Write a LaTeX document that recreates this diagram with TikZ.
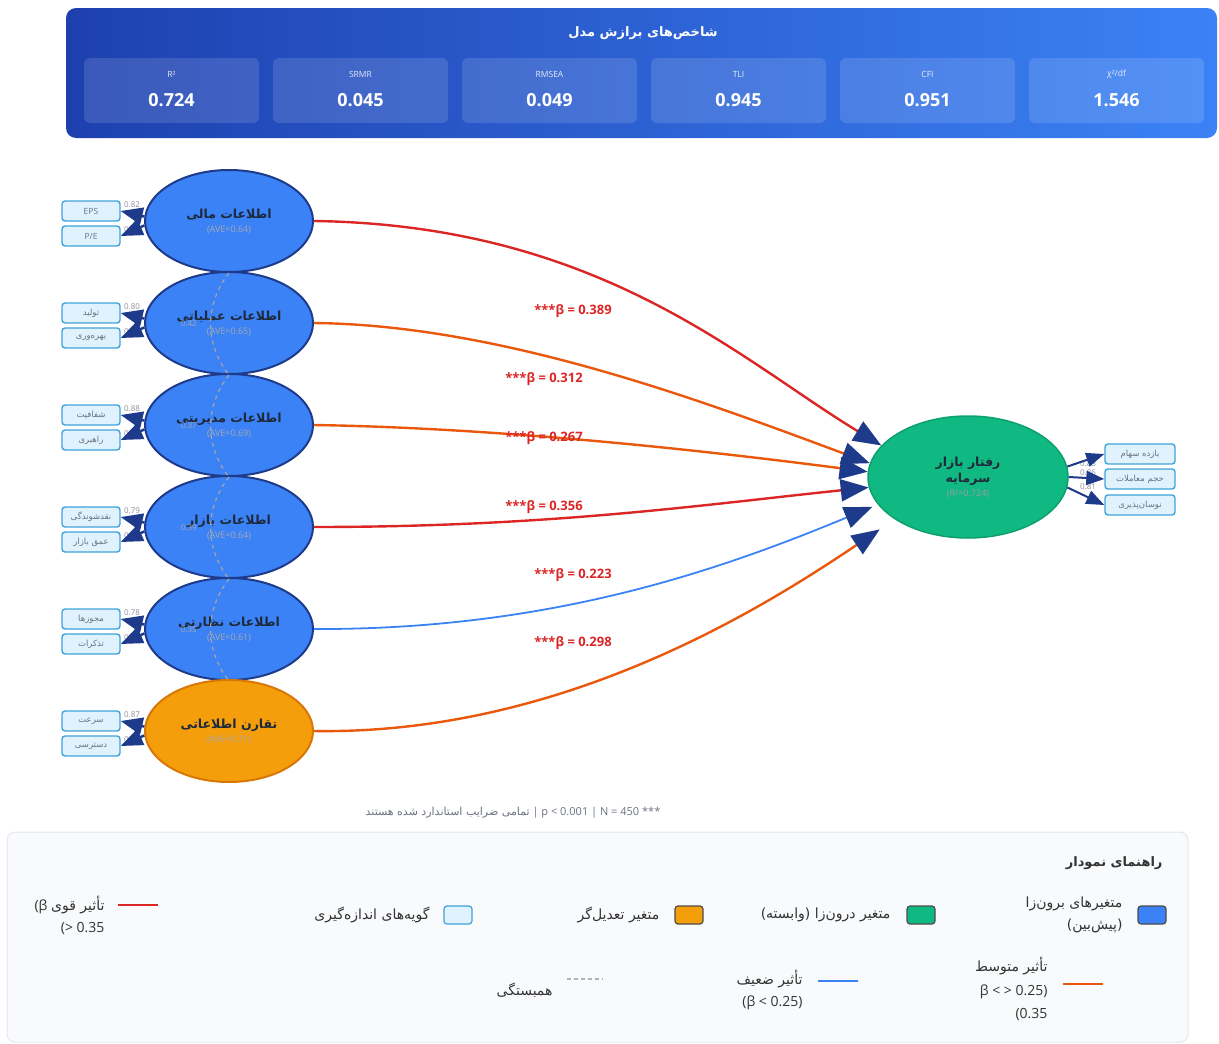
\documentclass[tikz,border=0pt]{standalone}
\usepackage{fontspec}
\setmainfont{Open Sans}
\newfontfamily\fafont[Script=Arabic]{DejaVu Sans}
\TeXXeTstate=1
\usepackage{tikz}
\usetikzlibrary{arrows.meta, shapes.geometric, positioning}
\newcommand{\fa}[1]{{\fafont\beginR #1\endR}}
\definecolor{latblue}{HTML}{3B82F6}
\definecolor{navy}{HTML}{1E3A8A}
\definecolor{symfill}{HTML}{F59E0B}
\definecolor{symline}{HTML}{D97706}
\definecolor{behfill}{HTML}{10B981}
\definecolor{behline}{HTML}{0E9F6E}
\definecolor{itemfill}{HTML}{E0F2FE}
\definecolor{itemline}{HTML}{3FA3DC}
\definecolor{strongred}{HTML}{DC2626}
\definecolor{midorange}{HTML}{EA580C}
\definecolor{weakblue}{HTML}{3B82F6}
\definecolor{ink}{HTML}{1E293B}
\definecolor{softgray}{HTML}{6B7280}
\definecolor{hdrleft}{HTML}{1E40AF}
\definecolor{hdrright}{HTML}{3B82F6}
\definecolor{legbg}{HTML}{F8FAFC}
\definecolor{legline}{HTML}{E2E8F0}
\tikzstyle{latent} = [ellipse, draw=navy, line width=2pt, fill=latblue, minimum width=168, minimum height=102, inner sep=0pt, align=center, text=ink]
\tikzstyle{ind}    = [rectangle, rounded corners=3pt, draw=itemline, line width=1.4pt, fill=itemfill, minimum width=58, minimum height=20, inner sep=0pt, font=\fontsize{8.5}{10}\selectfont, text=softgray]
\tikzstyle{load}   = [line width=2.5pt, draw=navy, -{Triangle[length=22pt,width=17pt]}]
\tikzstyle{effect} = [line width=2.4pt, -{Triangle[length=28pt,width=22pt,color=navy]}]
\tikzstyle{swatch} = [rectangle, rounded corners=3pt, minimum width=28, minimum height=18, inner sep=0pt, line width=1.2pt, draw=black!70]

\begin{document}
\begin{tikzpicture}[x=1pt, y=-1pt,
    lval/.style={font=\fontsize{8}{9}\selectfont, text=softgray!80},
    beta/.style={font=\fontsize{13}{15}\selectfont\bfseries, text=strongred},
    corr/.style={draw=gray!70, line width=1.2pt, dash pattern=on 4pt off 4pt},
    fitbox/.style={rounded corners=6pt, fill=white, fill opacity=0.13, minimum width=175, minimum height=65, inner sep=0pt},
    legtxt/.style={anchor=east, align=right, font=\fontsize{14}{22}\selectfont, text=black!80},
  ]
  \useasboundingbox (0,0) rectangle (1219,1044);

  % model fit header
  \node[rounded corners=10pt, left color=hdrleft, right color=hdrright, minimum width=1151, minimum height=130, inner sep=0pt] (hdr) at (641.5,73) {};
  \node[text=white, font=\fontsize{13}{15}\selectfont\bfseries] (hdrtitle) at (643,33) {\fa{شاخص‌های برازش مدل}};
  \foreach \i/\lab/\val in {0/R²/0.724, 1/SRMR/0.045, 2/RMSEA/0.049, 3/TLI/0.945, 4/CFI/0.951, 5/{χ²/df}/1.546}{
    \node[fitbox] (box\i) at (171.5+189*\i, 90.5) {};
    \node[text=white, text opacity=0.85, font=\fontsize{8.5}{10}\selectfont] (lab\i) at (171.5+189*\i, 74) {\lab};
    \node[text=white, font=\fontsize{18}{20}\selectfont\bfseries] (val\i) at (171.5+189*\i, 100) {\val};
  }

  % endogenous variable
  \node[latent, fill=behfill, draw=behline, line width=1.5pt, minimum width=200, minimum height=122,
        font=\fontsize{12.5}{16}\selectfont\bfseries] (beh) at (968,477)
    {\fa{رفتار بازار}\\\fa{سرمایه}\\[-2pt]
     \fontsize{9}{11}\selectfont\mdseries\color{ink!45}(R²=0.724)};
  \node[ind, minimum width=70] (ret) at (1140,454) {\fa{بازده سهام}};
  \node[ind, minimum width=70] (vol) at (1140,479) {\fa{حجم معاملات}};
  \node[ind, minimum width=70] (fluc) at (1140,505) {\fa{نوسان‌پذیری}};
  \node[lval] (ret-l) at (1088,464) {0.83};
  \node[lval] (vol-l) at (1088,473) {0.86};
  \node[lval] (fluc-l) at (1088,487) {0.81};
  \draw[load, line width=2pt, -{Triangle[length=18pt,width=14pt]}] (beh.6) -- (ret.west);
  \draw[load, line width=2pt, -{Triangle[length=18pt,width=14pt]}] (beh.0) -- (vol.west);
  \draw[load, line width=2pt, -{Triangle[length=18pt,width=14pt]}] (beh.-6) -- (fluc.west);

  % exogenous variables and their items
  \foreach \n/\y/\name/\ave/\ia/\ib/\la/\lb/\fc/\dc in {
      fin/221/{اطلاعات مالی}/0.64/{EPS}/{P/E}/0.82/0.79/latblue/navy,
      opr/323/{اطلاعات عملیاتی}/0.65/{\fa{تولید}}/{\fa{بهره‌وری}}/0.80/0.83/latblue/navy,
      mgt/425/{اطلاعات مدیریتی}/0.69/{\fa{شفافیت}}/{\fa{راهبری}}/0.88/0.82/latblue/navy,
      mkt/527/{اطلاعات بازار}/0.64/{\fa{نقدشوندگی}}/{\fa{عمق بازار}}/0.79/0.85/latblue/navy,
      reg/629/{اطلاعات نظارتی}/0.61/{\fa{مجوزها}}/{\fa{تذکرات}}/0.78/0.81/latblue/navy,
      sym/731/{تقارن اطلاعاتی}/0.71/{\fa{سرعت}}/{\fa{دسترسی}}/0.87/0.84/symfill/symline}{
    \node[latent, fill=\fc, draw=\dc] (\n) at (229,\y)
      {\fontsize{12.5}{15}\selectfont\bfseries\fa{\name}\\[2pt]
       \fontsize{9}{11}\selectfont\mdseries\color{ink!40}(AVE=\ave)};
    \node[ind] (\n-a) at (91,\y-10) {\ia};
    \node[ind] (\n-b) at (91,\y+15) {\ib};
    \node[lval] (\n-la) at (132,\y-16) {\la};
    \node[lval] (\n-lb) at (132,\y+9) {\lb};
    \draw[load] (\n.177) -- (\n-a.east);
    \draw[load] (\n.183) -- (\n-b.east);
  }

  % correlations
  \foreach \a/\b/\r in {fin/opr/0.42, opr/mgt/0.37, mgt/mkt/0.39, mkt/reg/0.35}
    \draw[corr] (\a.south) to[bend right=38] node[lval, text=ink!40, left=10pt] (\a-\b) {\r} (\b.south);

  % structural paths
  \draw[effect, strongred] (fin.east) .. controls (600,225) and (740,360) .. (beh.160);
  \draw[effect, midorange] (opr.east) .. controls (500,325) and (700,400) .. (beh.172);
  \draw[effect, midorange] (mgt.east) .. controls (500,428) and (700,450) .. (beh.177);
  \draw[effect, strongred] (mkt.east) .. controls (550,527) and (700,505) .. (beh.186);
  \draw[effect, weakblue, line width=1.8pt, shorten >=6pt] (reg.east) .. controls (550,630) and (720,570) .. (beh.197);
  \draw[effect, midorange, shorten >=18pt] (sym.east) .. controls (560,735) and (760,610) .. (beh.210);
  \node[beta] (b1) at (573,311) {***β = 0.389};
  \node[beta] (b2) at (544,379) {***β = 0.312};
  \node[beta] (b3) at (544,438) {***β = 0.267};
  \node[beta] (b4) at (544,507) {***β = 0.356};
  \node[beta] (b5) at (573,575) {***β = 0.223};
  \node[beta] (b6) at (573,643) {***β = 0.298};

  \node[text=softgray, font=\fontsize{11}{13}\selectfont] (note) at (513,813)
    {\fa{تمامی ضرایب استاندارد شده هستند} | p < 0.001 | N = 450 ***};

  % legend
  \node[rounded corners=8pt, fill=legbg, draw=legline, line width=1pt, minimum width=1181, minimum height=210, inner sep=0pt] (leg) at (597.5,937) {};
  \node[anchor=east, font=\fontsize{13}{15}\selectfont\bfseries, text=black!80] (legtitle) at (1166,863) {\fa{راهنمای نمودار}};
  \node[swatch, fill=latblue] (sw1) at (1152,915) {};
  \node[legtxt] (lt1) at (1126,915) {\fa{متغیرهای برون‌زا}\\\fa{(پیش‌بین)}};
  \node[swatch, fill=behfill] (sw2) at (921,915) {};
  \node[legtxt] (lt2) at (894,915) {\fa{متغیر درون‌زا (وابسته)}};
  \node[swatch, fill=symfill] (sw3) at (689,915) {};
  \node[legtxt] (lt3) at (663,915) {\fa{متغیر تعدیل‌گر}};
  \node[swatch, fill=itemfill, draw=itemline] (sw4) at (458,915) {};
  \node[legtxt] (lt4) at (433,915) {\fa{گویه‌های اندازه‌گیری}};
  \draw[strongred, line width=2.5pt] (118,905) -- (158,905);
  \node[legtxt] (lt5) at (108,915) {(β \fa{تأثیر قوی}\\(> 0.35};
  \draw[midorange, line width=2.5pt] (1063,984) -- (1103,984);
  \node[legtxt, font=\fontsize{14}{23.5}\selectfont] (lt6) at (1051,989) {\fa{تأثیر متوسط}\\β < > 0.25)\\(0.35};
  \draw[weakblue, line width=1.8pt] (818,981) -- (858,981);
  \node[legtxt] (lt7) at (806,990) {\fa{تأثیر ضعیف}\\(β < 0.25)};
  \draw[gray!60, line width=1.5pt, dash pattern=on 4pt off 3pt] (567,979) -- (603,979);
  \node[legtxt] (lt8) at (556,990) {\fa{همبستگی}};
\end{tikzpicture}
\end{document}
